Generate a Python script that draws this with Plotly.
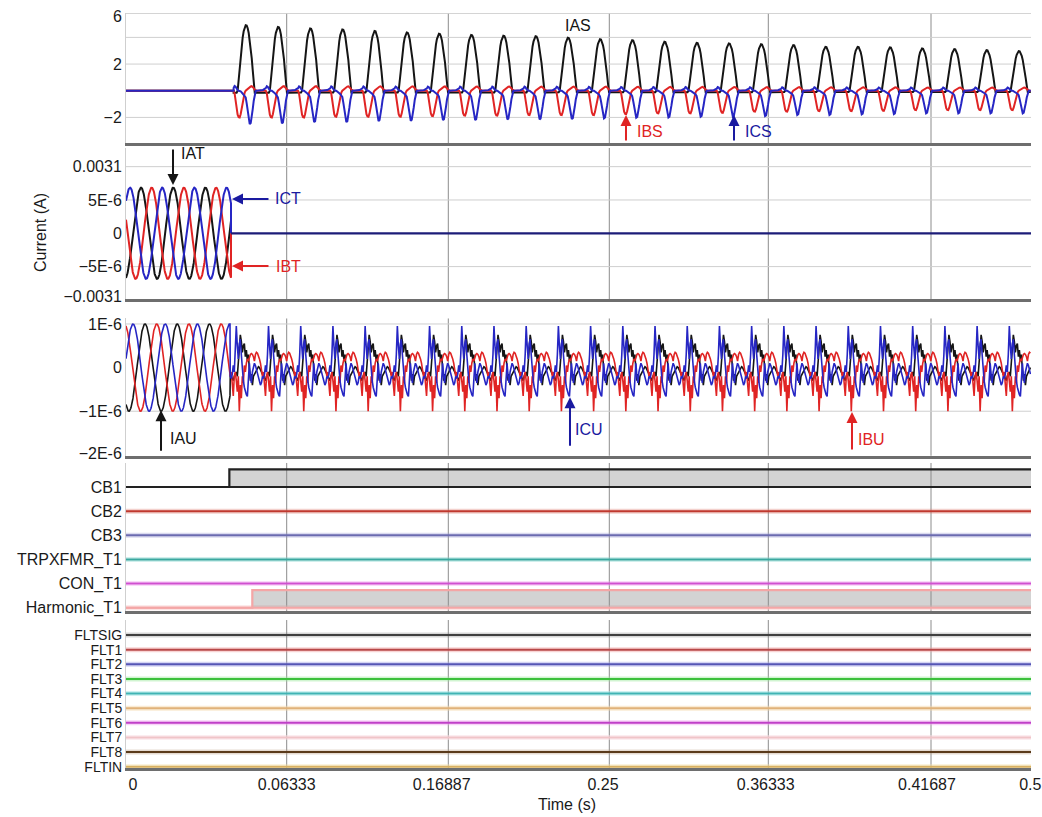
import numpy as np
import plotly.graph_objects as go
from plotly.subplots import make_subplots

# ---------------- time axis ----------------
t_range = [0.0, 0.5]
period = 0.017795                      # s, spacing of the repeating pulses
grid_times = [0.08878, 0.17807, 0.26702, 0.35486, 0.44475]
tick_times = [0.0039, 0.08878, 0.17442, 0.26354, 0.35343, 0.44254, 0.4996]
tick_labels = ["0", "0.06333", "0.16887", "0.25", "0.36333", "0.41687", "0.5"]

# ---------------- panel 1 : IAS / IBS / ICS (inrush) ----------------
inrush_start = 0.05945
ias_peaks = [4.93, 4.80, 4.68, 4.61, 4.50, 4.38, 4.28, 4.20, 4.13, 4.10, 3.98, 3.88, 3.80,
             3.68, 3.60, 3.56, 3.50, 3.43, 3.30, 3.30, 3.26, 3.18, 3.13, 3.05, 2.98]
ibs_troughs = [2.00, 2.00, 2.00, 1.95, 1.95, 1.95, 1.90, 1.87, 1.87, 1.82, 1.82, 1.82, 1.75,
               1.70, 1.70, 1.65, 1.57, 1.57, 1.52, 1.52, 1.50, 1.45, 1.45, 1.45, 1.45]
ics_troughs = [2.50, 2.45, 2.35, 2.35, 2.27, 2.25, 2.20, 2.20, 2.15, 2.15, 2.12, 2.07, 2.02,
               2.00, 1.95, 1.95, 1.90, 1.82, 1.82, 1.77, 1.75, 1.70, 1.70, 1.70, 1.70]
ias_shape = [-0.03, -0.03, -0.03, -0.03, 0.0, 0.186, 0.366, 0.535, 0.684, 0.809, 0.905, 0.968,
             0.997, 0.991, 0.951, 0.878, 0.776, 0.647, 0.497, 0.313, 0.13, -0.03, -0.03, -0.03,
             -0.03, -0.03, -0.03, -0.03, -0.03, -0.03, -0.03, -0.03]
ibs_shape = [0.0, -0.1, -0.4, -0.7, -0.9, -0.99, -1.0, -0.88, -0.68, -0.45, -0.22, -0.07, 0.0,
             0.04, 0.08, 0.11, 0.14, 0.16, 0.17, 0.15, 0.1, 0.04, 0, 0, 0, 0, 0, 0, 0, 0, 0, 0]
ics_shape = [0.08, 0.14, 0.12, 0.06, 0.02, 0, 0, -0.02, -0.05, -0.08, -0.11, -0.14, -0.2, -0.38,
             -0.62, -0.86, -1.0, -0.97, -0.8, -0.55, -0.3, -0.08, 0, 0, 0, 0, 0, 0, 0, 0.02,
             0.04, 0.06]

# ---------------- panel 2 : IAT / IBT / ICT ----------------
t_amp = 6.85e-6
t_peak_times = {"IAT": 0.00829, "IBT": 0.0142, "ICT": 0.00221}
t_cut = 0.05801

# ---------------- panel 3 : IAU / IBU / ICU ----------------
u_amp = 1.0e-6
u_peak_times = {"IAU": 0.0105, "IBU": 0.01696, "ICU": 0.00387}
u_cut = 0.05746
u_distort_start = 0.06094
u_scale = 1.0e-6
iau_shape = [-0.1, -0.2, 0.1, 0.4, 0.75, 0.6, 0.35, 0.5, 0.55, 0.25, 0.4, 0.15, 0.3, -0.05,
             -0.3, -0.15, -0.4, -0.2, -0.15, -0.1, -0.05, 0.0, 0.02, 0.0, -0.05, -0.1, -0.15,
             -0.2, -0.25, -0.3, -0.2, -0.15]
ibu_shape = [-0.3, -0.55, -0.2, -1.0, -0.4, -0.7, -0.2, -0.35, 0.05, -0.1, 0.1, 0.2, 0.15, 0.25,
             0.3, 0.32, 0.3, 0.25, 0.15, 0.3, 0.35, 0.33, 0.28, 0.2, 0.1, -0.05, -0.2, -0.1,
             -0.4, -0.65, -0.2, -0.1]
icu_shape = [0.95, 0.5, 0.2, 0.55, 0.65, 0.3, -0.1, -0.3, -0.45, -0.55, -0.62, -0.66, -0.2, 0.1,
             -0.2, -0.35, -0.1, 0.05, 0.1, 0.05, -0.05, -0.15, -0.25, -0.35, -0.4, -0.35, -0.2,
             -0.25, -0.15, 0.05, -0.1, 0.3]

# ---------------- panel 4 : digital ----------------
dig_names = ["CB1", "CB2", "CB3", "TRPXFMR_T1", "CON_T1", "Harmonic_T1"]
dig_on_time = [0.0571, None, None, None, None, 0.06978]
dig_colors = ["#222222", "#c0392f", "#6b6bb0", "#3aa89f", "#d050d0", "#f4a6a6"]
dig_halo = ["rgba(0,0,0,0)", "rgba(220,120,110,0.35)", "rgba(150,150,210,0.35)",
            "rgba(120,210,200,0.35)", "rgba(240,150,240,0.35)", "rgba(250,200,200,0.5)"]
dig_high = 0.73

# ---------------- panel 5 : fault bits ----------------
flt_names = ["FLTSIG", "FLT1", "FLT2", "FLT3", "FLT4", "FLT5", "FLT6", "FLT7", "FLT8", "FLTIN"]
flt_colors = ["#404040", "#b84848", "#5555b5", "#3cc03c", "#40b4b4", "#e0b27a", "#c040c8",
              "#f0c4c8", "#5a3a1a", "#d8b060"]
flt_halo = ["rgba(120,120,120,0.3)", "rgba(240,160,160,0.45)", "rgba(160,160,230,0.45)",
            "rgba(150,230,150,0.45)", "rgba(160,230,230,0.5)", "rgba(245,215,170,0.5)",
            "rgba(240,160,240,0.45)", "rgba(250,220,225,0.5)", "rgba(180,150,120,0.35)",
            "rgba(245,225,170,0.5)"]

BLACK, RED, BLUE, NAVY = "#151515", "#e02424", "#2626c4", "#1c1c78"
FONT = "Liberation Sans, Arial, sans-serif"


def tile(t0, shape, scales, t_lo, t_hi):
    n = len(shape)
    k = np.arange(len(scales))
    q = np.arange(n)
    t = t0 + (k[:, None] + q[None, :] / n) * period
    y = np.asarray(scales, float)[:, None] * np.asarray(shape, float)[None, :]
    t, y = t.ravel(), y.ravel()
    m = (t >= t_lo) & (t <= t_hi)
    return t[m], y[m]


fig = make_subplots(rows=5, cols=1, shared_xaxes=True, vertical_spacing=0.01)

# panel 1
for shape, scales, col in [(ias_shape, ias_peaks, BLACK),
                           (ibs_shape, ibs_troughs, RED),
                           (ics_shape, ics_troughs, BLUE)]:
    t, y = tile(inrush_start, shape, scales, 0, t_range[1])
    t = np.concatenate([[0.0, inrush_start], t])
    y = np.concatenate([[0.0, 0.0], y])
    fig.add_trace(go.Scatter(x=t, y=y, mode="lines", line=dict(color=col, width=2)),
                  row=1, col=1)

# panel 2
for name, col in [("IAT", BLACK), ("IBT", RED), ("ICT", BLUE)]:
    t = np.linspace(0, t_cut, 500)
    y = t_amp * np.cos(2 * np.pi * (t - t_peak_times[name]) / period)
    t = np.concatenate([t, [t_cut]])
    y = np.concatenate([y, [0.0]])
    fig.add_trace(go.Scatter(x=t, y=y, mode="lines", line=dict(color=col, width=2)),
                  row=2, col=1)
fig.add_trace(go.Scatter(x=[t_cut, t_range[1]], y=[0, 0], mode="lines",
                         line=dict(color=NAVY, width=2.2)), row=2, col=1)

# panel 3
n_cyc = int(np.ceil((t_range[1] - u_distort_start) / period)) + 2
for name, shape, col in [("IAU", iau_shape, BLACK), ("IBU", ibu_shape, RED),
                         ("ICU", icu_shape, BLUE)]:
    ts = np.linspace(0, u_cut, 500)
    ys = u_amp * np.cos(2 * np.pi * (ts - u_peak_times[name]) / period)
    td, yd = tile(u_distort_start - period, shape, [u_scale] * n_cyc, u_cut, t_range[1])
    fig.add_trace(go.Scatter(x=np.concatenate([ts, td]), y=np.concatenate([ys, yd]),
                             mode="lines", line=dict(color=col, width=1.6)), row=3, col=1)

# panel 4
n_dig = len(dig_names)
for i, name in enumerate(dig_names):
    base = n_dig - 1 - i
    on = dig_on_time[i]
    fig.add_trace(go.Scatter(x=t_range, y=[base, base], mode="lines",
                             line=dict(color=dig_halo[i], width=5)), row=4, col=1)
    fig.add_trace(go.Scatter(x=t_range, y=[base, base], mode="lines",
                             line=dict(color=dig_colors[i], width=2)), row=4, col=1)
    if on is not None:
        fig.add_trace(go.Scatter(x=[t_range[0], on, on, t_range[1]],
                                 y=[base, base, base + dig_high, base + dig_high],
                                 mode="lines", fill="tonexty",
                                 fillcolor="rgba(140,140,140,0.38)",
                                 line=dict(color=dig_colors[i], width=2.2)), row=4, col=1)

# panel 5
n_flt = len(flt_names)
for i, name in enumerate(flt_names):
    base = n_flt - 1 - i
    fig.add_trace(go.Scatter(x=t_range, y=[base, base], mode="lines",
                             line=dict(color=flt_halo[i], width=5)), row=5, col=1)
    fig.add_trace(go.Scatter(x=t_range, y=[base, base], mode="lines",
                             line=dict(color=flt_colors[i], width=2)), row=5, col=1)

# ---------------- axes ----------------
tickfont = dict(family=FONT, size=16, color="#1a1a1a")
fig.update_xaxes(range=t_range, showgrid=False, zeroline=False, showline=True,
                 linecolor="#6e6e6e", linewidth=3, ticks="", showticklabels=False,
                 automargin=False)
fig.update_xaxes(row=5, col=1, showticklabels=True, tickmode="array", tickvals=tick_times,
                 ticktext=tick_labels, tickfont=tickfont)
fig.update_yaxes(showgrid=False, zeroline=False, showline=True, linecolor="#cfcfcf",
                 linewidth=1, ticks="", tickfont=tickfont, tickmode="array",
                 automargin=False)

fig.update_layout(
    yaxis=dict(domain=[0.8278, 1.0], range=[-3.92, 5.83],
               tickvals=[5.6, 2, -2], ticktext=["6", "2", "\u22122"]),
    yaxis2=dict(domain=[0.6212, 0.8212], range=[-9.86e-6, 1.28e-5],
                tickvals=[1e-5, 5e-6, 0, -5e-6, -9.5e-6],
                ticktext=["0.0031", "5E-6", "0", "\u22125E-6", "\u22120.0031"]),
    yaxis3=dict(domain=[0.4136, 0.5954], range=[-2.02e-6, 1.126e-6],
                tickvals=[1e-6, 0, -1e-6, -1.96e-6],
                ticktext=["1E-6", "0", "\u22121E-6", "\u22122E-6"]),
    yaxis4=dict(domain=[0.2079, 0.4040], range=[-0.137, 5.994],
                tickvals=[n_dig - 1 - i for i in range(n_dig)], ticktext=dig_names),
    yaxis5=dict(domain=[0.0, 0.196], range=[-0.09, 10.03],
                tickvals=[n_flt - 1 - i for i in range(n_flt)], ticktext=flt_names,
                tickfont=dict(family=FONT, size=14, color="#1a1a1a")),
)

# ---------------- grid lines ----------------
shapes = []
hgrid = {1: [5.8, 4, 2, -2], 2: [1e-5, 5e-6, -5e-6], 3: [1e-6, -1e-6]}
for r in range(1, 6):
    xr = "x" if r == 1 else f"x{r}"
    yr = "y" if r == 1 else f"y{r}"
    for g in grid_times:
        shapes.append(dict(type="line", xref=xr, yref=yr + " domain", x0=g, x1=g, y0=0, y1=1,
                           line=dict(color="#8c8c8c", width=1), layer="below"))
    for h in hgrid.get(r, []):
        shapes.append(dict(type="line", xref=xr + " domain", yref=yr, x0=0, x1=1, y0=h, y1=h,
                           line=dict(color="#cfcfcf", width=1), layer="below"))

# ---------------- annotations ----------------
ann = []


def arrow(xr, yr, x, y, ax, ay, color):
    ann.append(dict(xref=xr, yref=yr, x=x, y=y, ax=ax, ay=ay, text="", showarrow=True,
                    arrowhead=2, arrowsize=1.1, arrowwidth=2, arrowcolor=color, standoff=0))


def label(xr, yr, x, y, text, color):
    ann.append(dict(xref=xr, yref=yr, x=x, y=y, text=text, showarrow=False,
                    xanchor="center", yanchor="middle",
                    font=dict(family=FONT, size=16, color=color)))


label("x", "y", 0.2497, 4.93, "IAS", BLACK)
arrow("x", "y", 0.27624, -1.82, 0, 27, RED)
label("x", "y", 0.2895, -3.08, "IBS", RED)
arrow("x", "y", 0.33591, -1.82, 0, 27, "#1a1aa0")
label("x", "y", 0.34917, -3.02, "ICS", "#1a1aa0")

arrow("x2", "y2", 0.02597, 7.25e-6, 0, -37, BLACK)
label("x2", "y2", 0.0370, 1.19e-5, "IAT", BLACK)
arrow("x2", "y2", 0.05856, 5.15e-6, 38, 0, "#1a1aa0")
label("x2", "y2", 0.0895, 5.15e-6, "ICT", "#1a1aa0")
arrow("x2", "y2", 0.05856, -4.91e-6, 38, 0, RED)
label("x2", "y2", 0.0895, -4.91e-6, "IBT", RED)

arrow("x3", "y3", 0.01934, -0.977e-6, 0, 42, BLACK)
label("x3", "y3", 0.03149, -1.62e-6, "IAU", BLACK)
arrow("x3", "y3", 0.2453, -0.678e-6, 0, 50, "#1a1aa0")
label("x3", "y3", 0.2558, -1.414e-6, "ICU", "#1a1aa0")
arrow("x3", "y3", 0.40110, -1.016e-6, 0, 39, RED)
label("x3", "y3", 0.41215, -1.644e-6, "IBU", RED)

ann.append(dict(xref="paper", yref="paper", x=-0.095, y=0.7086, text="Current (A)",
                textangle=-90, showarrow=False, xanchor="center", yanchor="middle",
                font=dict(family=FONT, size=16, color="#1a1a1a")))
ann.append(dict(xref="paper", yref="paper", x=0.4873, y=-0.049, text="Time (s)",
                showarrow=False, xanchor="center", yanchor="middle",
                font=dict(family=FONT, size=16, color="#1a1a1a")))

fig.update_layout(width=1042, height=817, margin=dict(l=126, r=11, t=13, b=49),
                  paper_bgcolor="white", plot_bgcolor="white", showlegend=False,
                  hovermode=False, shapes=shapes, annotations=ann,
                  font=dict(family=FONT, size=16, color="#1a1a1a"))

fig.write_html("out.html")
